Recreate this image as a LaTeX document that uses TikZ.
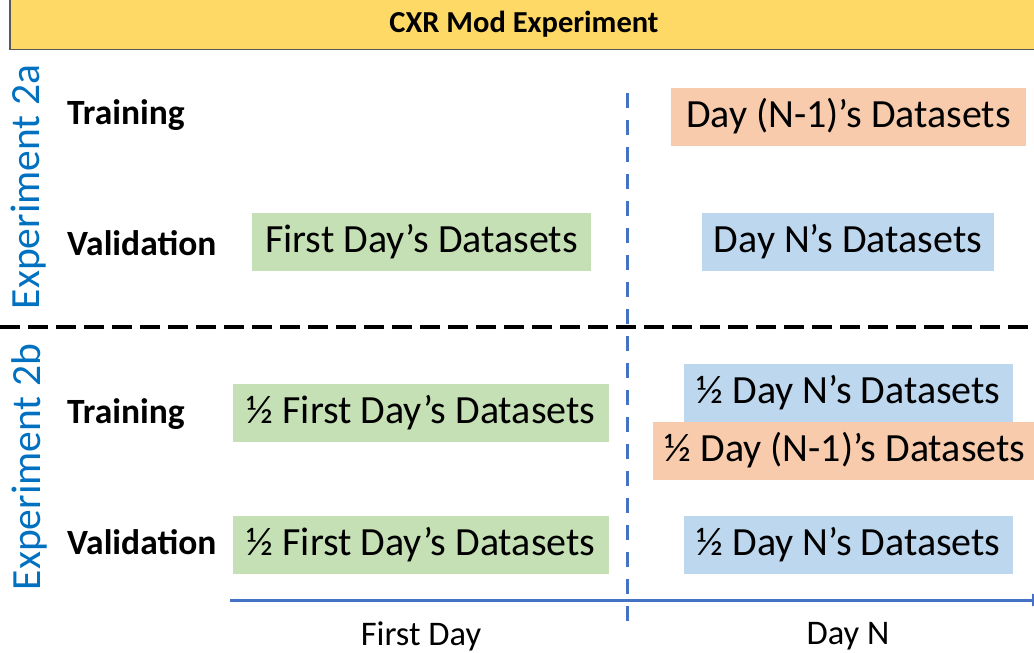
\documentclass[tikz,border=0pt]{standalone}
\usepackage{fontspec}
\setmainfont{Carlito}
\usetikzlibrary{arrows.meta}
\definecolor{ttlfill}{HTML}{FFD966}
\definecolor{orng}{HTML}{F8CBAD}
\definecolor{grn}{HTML}{C5E0B4}
\definecolor{blu}{HTML}{BDD7EE}
\definecolor{expblue}{HTML}{0070C0}
\definecolor{axblue}{HTML}{4472C4}
\begin{document}
\begin{tikzpicture}[x=1pt,y=-1pt,
  dbox/.style={inner sep=0pt, font=\fontsize{40}{48}\selectfont, text=black, minimum height=58pt},
  rowlabel/.style={inner sep=0pt, anchor=west, font=\fontsize{35.5}{42}\selectfont\bfseries},
  explabel/.style={inner sep=0pt, rotate=90, font=\fontsize{41.5}{48}\selectfont, text=expblue},
  axlabel/.style={inner sep=0pt, font=\fontsize{34.5}{41}\selectfont},
  hdivider/.style={draw=black, line width=3.5pt, dash pattern=on 20pt off 8pt},
  vdivider/.style={draw=axblue, line width=3pt, dash pattern=on 15pt off 12pt},
  axisline/.style={draw=axblue, line width=3pt, -{Triangle[length=14pt,width=12pt]}}]
\useasboundingbox (0,0) rectangle (1034,653);
% title bar
\node[draw=black!65, fill=ttlfill, line width=1.5pt, inner sep=0pt,
      minimum width=1028pt, minimum height=50pt,
      font=\fontsize{30.5}{36}\selectfont\bfseries] (title) at (524,24.5) {CXR Mod Experiment};
% dividers and axis
\coordinate (hl) at (0,327);
\coordinate (hr) at (1040,327);
\coordinate (vt) at (627,93);
\coordinate (vb) at (627,631);
\coordinate (al) at (230,600);
\coordinate (ar) at (1046,600);
\draw[vdivider] (vt) -- (vb);
\draw[hdivider] (hl) -- (hr);
\draw[axisline] (al) -- (ar);
% experiment labels
\node[explabel] (e2a) at (29,187) {Experiment 2a};
\node[explabel] (e2b) at (29,467) {Experiment 2b};
% row labels
\node[rowlabel] (tr1) at (67,115) {Training};
\node[rowlabel] (va1) at (67,243) {Validation};
\node[rowlabel] (tr2) at (67,414) {Training};
\node[rowlabel] (va2) at (67,542) {Validation};
% data boxes
\node[dbox, fill=orng, minimum width=355pt] (o1) at (848.5,116.5) {Day (N-1)’s Datasets};
\node[dbox, fill=grn, minimum width=339pt] (g1) at (421.5,242) {First Day’s Datasets};
\node[dbox, fill=blu, minimum width=292pt] (b1) at (848,241.5) {Day N’s Datasets};
\node[dbox, fill=grn, minimum width=376pt] (g2) at (421,413) {½ First Day’s Datasets};
\node[dbox, fill=blu, minimum width=329pt] (b2) at (848.5,392.5) {½ Day N’s Datasets};
\node[dbox, fill=orng, minimum width=384pt] (o2) at (845,450.5) {½ Day (N-1)’s Datasets};
\node[dbox, fill=grn, minimum width=376pt] (g3) at (421,545) {½ First Day’s Datasets};
\node[dbox, fill=blu, minimum width=329pt] (b3) at (848.5,545) {½ Day N’s Datasets};
% axis labels
\node[axlabel] (fd) at (421,636) {First Day};
\node[axlabel] (dn) at (848,636) {Day N};
\end{tikzpicture}
\end{document}
